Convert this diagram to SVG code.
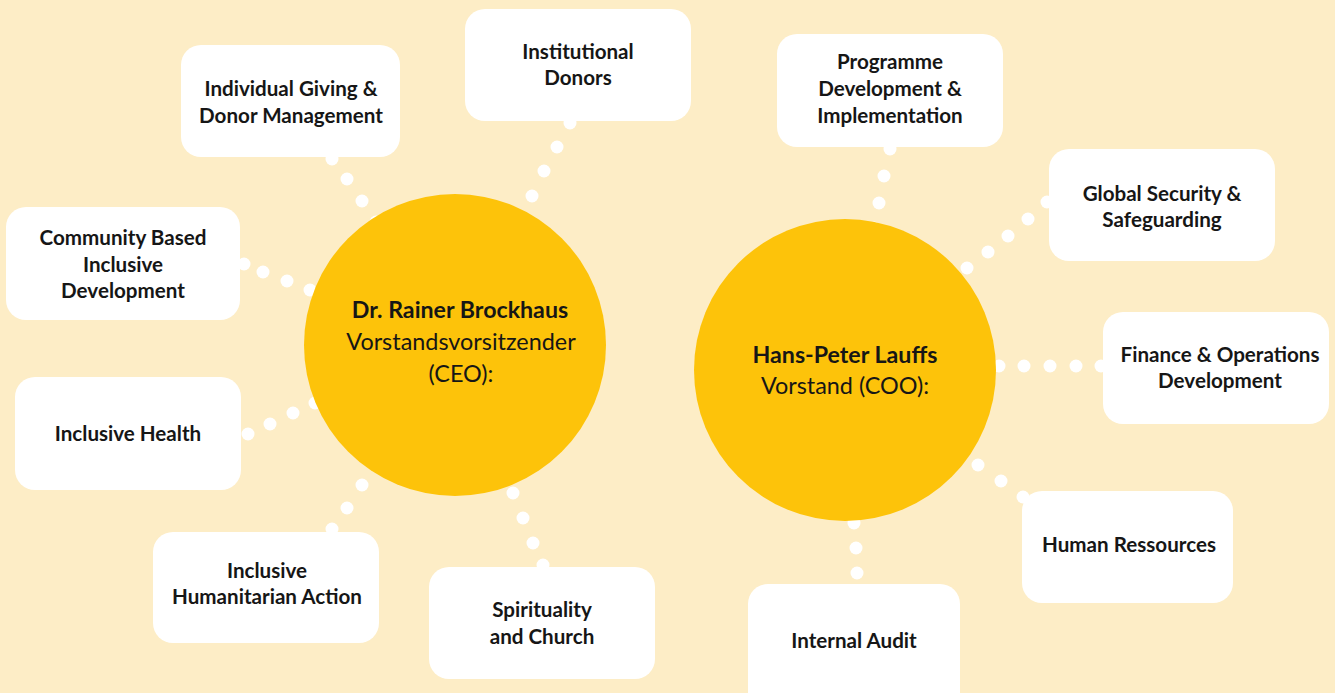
<svg xmlns="http://www.w3.org/2000/svg" width="1335" height="693" viewBox="0 0 1335 693">
<defs>
<style>
.bg{fill:#FDEDC6}
.hub{fill:#FDC30A}
.box{fill:#FFFFFF}
.dot{fill:#FFFFFF}
.t{font-family:Lato,"Noto Sans","Liberation Sans",sans-serif;font-size:20.6px;font-weight:700;fill:#161616;text-anchor:middle}
.hn{font-family:Lato,"Noto Sans","Liberation Sans",sans-serif;font-size:23.2px;font-weight:700;fill:#161616;text-anchor:middle}
.hr{font-family:Lato,"Noto Sans","Liberation Sans",sans-serif;font-size:23.4px;font-weight:400;fill:#161616;text-anchor:middle}
</style>
</defs>
<rect class="bg" x="0" y="0" width="1335" height="693"/>
<g id="connectors">
<circle class="dot" cx="332" cy="159" r="6.5"/><circle class="dot" cx="347" cy="179" r="6.5"/><circle class="dot" cx="362" cy="201" r="6.5"/><circle class="dot" cx="376" cy="222" r="6.5"/>
<circle class="dot" cx="570" cy="123" r="6.5"/><circle class="dot" cx="557" cy="147" r="6.5"/><circle class="dot" cx="544" cy="171" r="6.5"/><circle class="dot" cx="532" cy="196" r="6.5"/>
<circle class="dot" cx="244" cy="264" r="6.5"/><circle class="dot" cx="263" cy="272" r="6.5"/><circle class="dot" cx="287" cy="281" r="6.5"/><circle class="dot" cx="310" cy="290" r="6.5"/>
<circle class="dot" cx="248" cy="434" r="6.5"/><circle class="dot" cx="270" cy="424" r="6.5"/><circle class="dot" cx="293" cy="413" r="6.5"/><circle class="dot" cx="315" cy="403" r="6.5"/>
<circle class="dot" cx="362" cy="485" r="6.5"/><circle class="dot" cx="347" cy="508" r="6.5"/><circle class="dot" cx="332" cy="529" r="6.5"/>
<circle class="dot" cx="513" cy="493" r="6.5"/><circle class="dot" cx="523" cy="518" r="6.5"/><circle class="dot" cx="533" cy="543" r="6.5"/><circle class="dot" cx="543" cy="565" r="6.5"/>
<circle class="dot" cx="890" cy="149" r="6.5"/><circle class="dot" cx="884" cy="176" r="6.5"/><circle class="dot" cx="879" cy="203" r="6.5"/><circle class="dot" cx="874" cy="228" r="6.5"/>
<circle class="dot" cx="1047" cy="202" r="6.5"/><circle class="dot" cx="1028" cy="219" r="6.5"/><circle class="dot" cx="1008" cy="236" r="6.5"/><circle class="dot" cx="988" cy="252" r="6.5"/><circle class="dot" cx="967" cy="268" r="6.5"/>
<circle class="dot" cx="999" cy="366" r="6.5"/><circle class="dot" cx="1024" cy="366" r="6.5"/><circle class="dot" cx="1050" cy="366" r="6.5"/><circle class="dot" cx="1076" cy="366" r="6.5"/><circle class="dot" cx="1101" cy="366" r="6.5"/>
<circle class="dot" cx="978" cy="465" r="6.5"/><circle class="dot" cx="1001" cy="481" r="6.5"/><circle class="dot" cx="1023" cy="497" r="6.5"/>
<circle class="dot" cx="854" cy="523" r="6.5"/><circle class="dot" cx="856" cy="548" r="6.5"/><circle class="dot" cx="857" cy="573" r="6.5"/><circle class="dot" cx="858" cy="596" r="6.5"/>
</g>
<g id="ceo">
<circle class="hub" cx="455" cy="345" r="151"/>
<text class="hn" x="460" y="318">Dr. Rainer Brockhaus</text>
<text class="hr" x="461" y="350">Vorstandsvorsitzender</text>
<text class="hr" x="461" y="382">(CEO):</text>
</g>
<g id="coo">
<circle class="hub" cx="845" cy="370" r="151"/>
<text class="hn" x="845" y="363">Hans-Peter Lauffs</text>
<text class="hr" x="845" y="394">Vorstand (COO):</text>
</g>
<g id="individual-giving">
<rect class="box" x="181" y="45" width="219" height="112" rx="20"/>
<text class="t" x="291" y="96">Individual Giving &amp;</text>
<text class="t" x="291" y="123">Donor Management</text>
</g>
<g id="institutional-donors">
<rect class="box" x="465" y="9" width="226" height="112" rx="20"/>
<text class="t" x="578" y="59">Institutional</text>
<text class="t" x="578" y="85">Donors</text>
</g>
<g id="community-based">
<rect class="box" x="6" y="207" width="234" height="113" rx="20"/>
<text class="t" x="123" y="245">Community Based</text>
<text class="t" x="123" y="272">Inclusive</text>
<text class="t" x="123" y="298">Development</text>
</g>
<g id="inclusive-health">
<rect class="box" x="15" y="377" width="226" height="113" rx="20"/>
<text class="t" x="128" y="441">Inclusive Health</text>
</g>
<g id="humanitarian-action">
<rect class="box" x="153" y="532" width="226" height="111" rx="20"/>
<text class="t" x="267" y="578">Inclusive</text>
<text class="t" x="267" y="604">Humanitarian Action</text>
</g>
<g id="spirituality">
<rect class="box" x="429" y="567" width="226" height="112" rx="20"/>
<text class="t" x="542" y="617">Spirituality</text>
<text class="t" x="542" y="644">and Church</text>
</g>
<g id="programme">
<rect class="box" x="777" y="34" width="226" height="113" rx="20"/>
<text class="t" x="890" y="69">Programme</text>
<text class="t" x="890" y="96">Development &amp;</text>
<text class="t" x="890" y="123">Implementation</text>
</g>
<g id="global-security">
<rect class="box" x="1049" y="149" width="226" height="112" rx="20"/>
<text class="t" x="1162" y="201">Global Security &amp;</text>
<text class="t" x="1162" y="227">Safeguarding</text>
</g>
<g id="finance">
<rect class="box" x="1103" y="312" width="226" height="112" rx="20"/>
<text class="t" x="1220" y="362">Finance &amp; Operations</text>
<text class="t" x="1220" y="388">Development</text>
</g>
<g id="human-ressources">
<rect class="box" x="1022" y="491" width="211" height="112" rx="20"/>
<text class="t" x="1129" y="552">Human Ressources</text>
</g>
<g id="internal-audit">
<rect class="box" x="748" y="584" width="212" height="130" rx="20"/>
<text class="t" x="854" y="648">Internal Audit</text>
</g>
</svg>
